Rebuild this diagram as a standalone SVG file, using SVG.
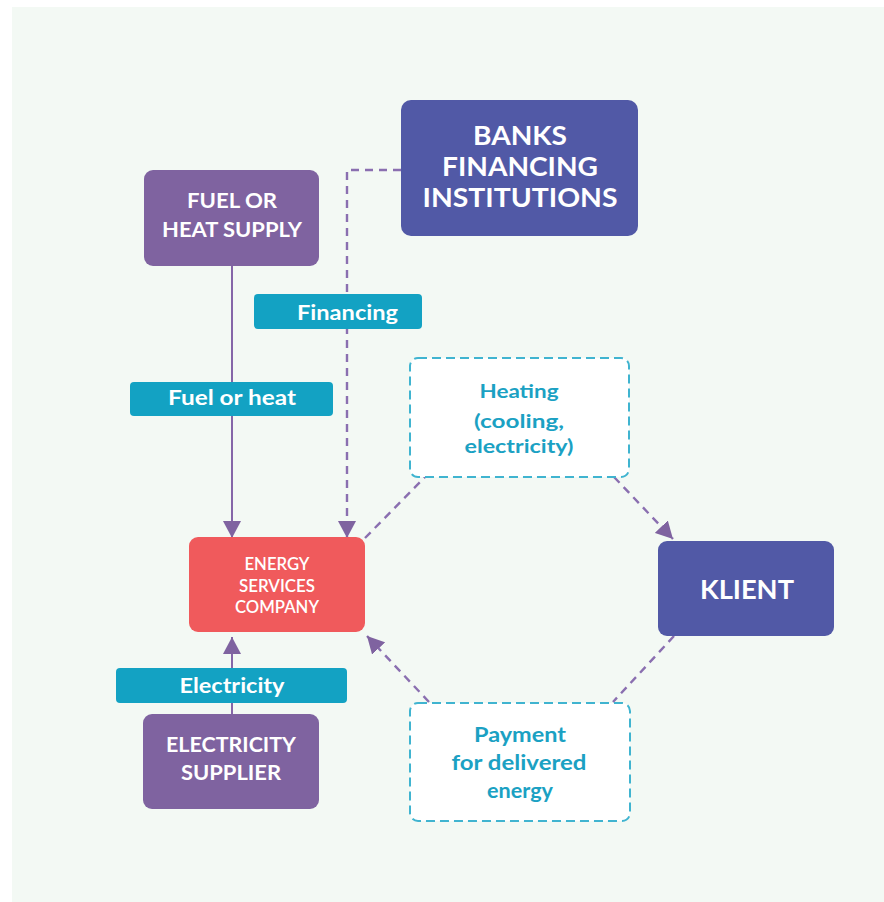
<svg xmlns="http://www.w3.org/2000/svg" width="884" height="902" viewBox="0 0 884 902">
<style>
text{font-family:Lato,"Open Sans","Liberation Sans",sans-serif;font-weight:bold;text-anchor:middle}
text.n{font-weight:600}
.w{fill:#ffffff}
.c{fill:#1ba1c3}
.solid{stroke:#8566a8;stroke-width:2;fill:none}
.dash{stroke:#8a6fb0;stroke-width:2.4;fill:none;stroke-dasharray:8 6}
.box{stroke:#40b4d0;stroke-width:2;stroke-dasharray:9 5;fill:#ffffff}
.lab{fill:#13a2c3}
</style>
<defs>
<marker id="ah" markerUnits="userSpaceOnUse" markerWidth="18" markerHeight="18" viewBox="0 0 18 18" refX="17" refY="9" orient="auto">
<path d="M0,0 L17,9 L0,18 Z" fill="#7f63a0"/>
</marker>
</defs>
<rect x="12" y="7" width="872" height="895" fill="#f3f9f4"/>

<g id="connectors">
<line class="solid" x1="232" y1="266" x2="232" y2="538" marker-end="url(#ah)"/>
<polyline class="dash" points="401,170 347,170 347,538" marker-end="url(#ah)"/>
<line class="dash" x1="365" y1="538" x2="425" y2="477"/>
<line class="dash" x1="614" y1="477" x2="673" y2="539" marker-end="url(#ah)"/>
<line class="dash" x1="674" y1="636" x2="613" y2="702"/>
<line class="dash" x1="429" y1="702" x2="367" y2="636" marker-end="url(#ah)"/>
<line class="solid" x1="232" y1="714" x2="232" y2="637" marker-end="url(#ah)"/>
</g>

<g id="banks">
<rect x="401" y="100" width="237" height="136" rx="10" fill="#5159a6"/>
<text class="w" x="520" y="145" font-size="27" textLength="94" lengthAdjust="spacingAndGlyphs">BANKS</text>
<text class="w" x="520" y="176" font-size="27" textLength="156" lengthAdjust="spacingAndGlyphs">FINANCING</text>
<text class="w" x="520" y="207" font-size="27" textLength="195" lengthAdjust="spacingAndGlyphs">INSTITUTIONS</text>
</g>

<g id="fuel-supply">
<rect x="144" y="170" width="175" height="96" rx="9" fill="#7f63a0"/>
<text class="w" x="232" y="208" font-size="20" textLength="90" lengthAdjust="spacingAndGlyphs">FUEL OR</text>
<text class="w" x="232" y="237" font-size="20" textLength="140" lengthAdjust="spacingAndGlyphs">HEAT SUPPLY</text>
</g>

<g id="label-financing">
<rect class="lab" x="254" y="294" width="168" height="35" rx="4"/>
<text class="w" x="347.5" y="320" font-size="20" textLength="101" lengthAdjust="spacingAndGlyphs">Financing</text>
</g>

<g id="label-fuel">
<rect class="lab" x="130" y="382" width="203" height="34" rx="4"/>
<text class="w" x="232" y="405" font-size="20" textLength="128" lengthAdjust="spacingAndGlyphs">Fuel or heat</text>
</g>

<g id="heating">
<rect class="box" x="410" y="358" width="219" height="119" rx="8"/>
<text class="c" x="519" y="398" font-size="19" textLength="79" lengthAdjust="spacingAndGlyphs">Heating</text>
<text class="c" x="519" y="428" font-size="19" textLength="90" lengthAdjust="spacingAndGlyphs">(cooling,</text>
<text class="c" x="519" y="453" font-size="19" textLength="109" lengthAdjust="spacingAndGlyphs">electricity)</text>
</g>

<g id="esco">
<rect x="189" y="537" width="176" height="95" rx="9" fill="#f05a5c"/>
<text class="w n" x="277" y="570" font-size="17" textLength="65" lengthAdjust="spacingAndGlyphs">ENERGY</text>
<text class="w n" x="277" y="592" font-size="17" textLength="76" lengthAdjust="spacingAndGlyphs">SERVICES</text>
<text class="w n" x="277" y="613" font-size="17" textLength="84" lengthAdjust="spacingAndGlyphs">COMPANY</text>
</g>

<g id="klient">
<rect x="658" y="541" width="176" height="95" rx="9" fill="#5159a6"/>
<text class="w" x="747" y="599" font-size="27" textLength="94" lengthAdjust="spacingAndGlyphs">KLIENT</text>
</g>

<g id="label-electricity">
<rect class="lab" x="116" y="668" width="231" height="35" rx="4"/>
<text class="w" x="232" y="693" font-size="20" textLength="105" lengthAdjust="spacingAndGlyphs">Electricity</text>
</g>

<g id="electricity-supplier">
<rect x="143" y="714" width="176" height="95" rx="9" fill="#7f63a0"/>
<text class="w" x="231" y="752" font-size="20" textLength="130" lengthAdjust="spacingAndGlyphs">ELECTRICITY</text>
<text class="w" x="231" y="780" font-size="20" textLength="100" lengthAdjust="spacingAndGlyphs">SUPPLIER</text>
</g>

<g id="payment">
<rect class="box" x="410" y="703" width="220" height="118" rx="8"/>
<text class="c" x="520" y="742" font-size="20" textLength="92" lengthAdjust="spacingAndGlyphs">Payment</text>
<text class="c" x="519" y="770" font-size="20" textLength="135" lengthAdjust="spacingAndGlyphs">for delivered</text>
<text class="c" x="520" y="798" font-size="20" textLength="66" lengthAdjust="spacingAndGlyphs">energy</text>
</g>
</svg>
